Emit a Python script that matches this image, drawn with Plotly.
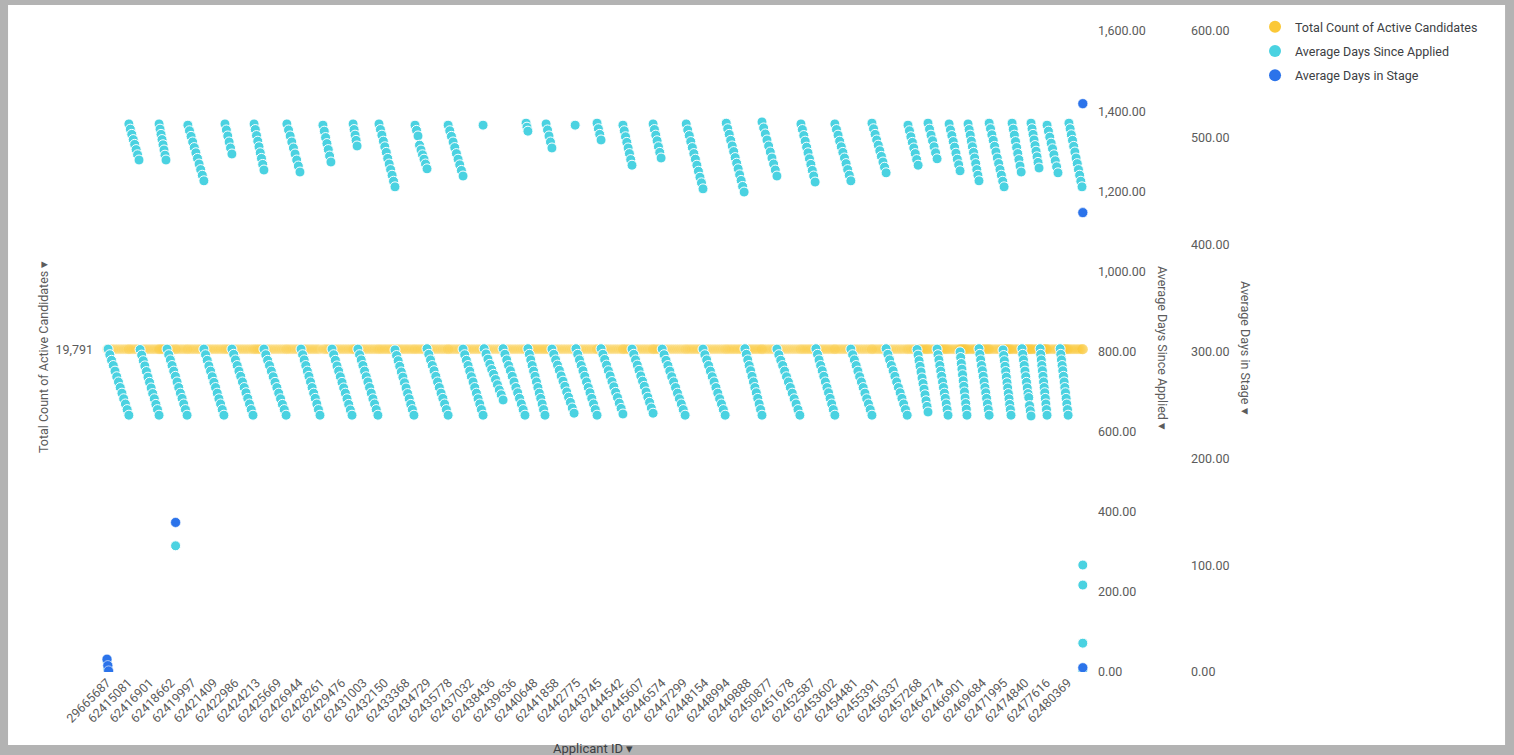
import numpy as np
import plotly.graph_objects as go

# applicant ids shown on the x axis, one label every 8 applicants
tick_ids = ['29665687', '62415081', '62416901', '62418662', '62419997', '62421409',
            '62422986', '62424213', '62425669', '62426944', '62428261', '62429476',
            '62431003', '62432150', '62433368', '62434729', '62435778', '62437032',
            '62438436', '62439636', '62440648', '62441858', '62442775', '62443745',
            '62444542', '62445607', '62446574', '62447299', '62448154', '62448994',
            '62449888', '62450877', '62451678', '62452587', '62453602', '62454481',
            '62455391', '62456337', '62457268', '62464774', '62466901', '62469684',
            '62471995', '62474840', '62477616', '62480369']
tick_rank = list(range(0, 8 * len(tick_ids), 8))

total_count = 19791

# Average Days Since Applied, one run of consecutive applicants at a time
run_start = [0.4, 8.2, 12.4, 19.5, 22.5, 30.3, 36.3, 44.2, 46.8, 55.1, 58.8, 67.4,
             72.7, 80.9, 84.3, 92.2, 94.0, 101.9, 107.9, 115.4, 119.9, 127.8, 133.4,
             140.9, 141.3, 148.4, 157.0, 157.7, 164.5, 166.7, 175.4, 175.7, 183.6,
             185.1, 193.3, 196.7, 204.6, 208.0, 217.0, 223.3, 232.0, 239.0, 245.4,
             251.0, 260.0, 265.6, 272.7, 278.7, 286.6, 291.9, 300.1, 303.5, 307.6,
             311.0, 315.5, 319.6, 322.6, 326.7, 330.5, 335.7, 339.1, 342.8, 346.2,
             349.6, 352.2, 357.1, 360.4]
run_end = [8.2, 12.0, 19.5, 22.1, 30.0, 36.3, 43.8, 46.8, 54.7, 58.8, 67.1, 72.3,
           79.8, 83.9, 91.8, 93.7, 101.5, 107.9, 115.0, 119.9, 127.8, 133.4, 140.9,
           140.9, 148.4, 156.6, 157.7, 164.1, 166.7, 175.0, 175.4, 183.6, 185.1,
           193.3, 196.7, 204.6, 207.6, 216.6, 223.3, 231.6, 238.7, 245.4, 251.0,
           259.6, 265.3, 272.7, 278.7, 286.6, 291.9, 299.8, 303.9, 307.6, 311.0,
           315.1, 319.6, 322.2, 326.7, 330.5, 336.1, 338.7, 342.5, 346.2, 349.2,
           352.2, 356.3, 360.1, 365.3]
run_values = [
    [806, 792, 778, 765, 751, 737, 724, 710, 696, 682, 669, 655, 641],
    [1368, 1355, 1342, 1329, 1317, 1304, 1291, 1278],
    [805, 791, 777, 764, 750, 736, 723, 709, 695, 682, 668, 655, 641],
    [1368, 1355, 1342, 1329, 1316, 1303, 1290, 1278],
    [806, 792, 779, 765, 751, 738, 724, 710, 696, 683, 669, 655, 641],
    [1365, 1351, 1337, 1323, 1309, 1296, 1282, 1268, 1254, 1240, 1226],
    [806, 792, 778, 764, 751, 737, 723, 710, 696, 682, 669, 655, 641],
    [1368, 1353, 1338, 1323, 1308, 1293],
    [806, 793, 779, 765, 751, 738, 724, 710, 697, 683, 669, 655, 641],
    [1368, 1354, 1339, 1325, 1311, 1296, 1282, 1267, 1253],
    [806, 792, 778, 765, 751, 737, 723, 710, 696, 682, 668, 655, 641],
    [1368, 1353, 1338, 1323, 1308, 1293, 1278, 1263, 1248],
    [806, 792, 779, 765, 751, 738, 724, 710, 696, 683, 669, 655, 641],
    [1365, 1350, 1334, 1319, 1304, 1288, 1273],
    [806, 792, 778, 764, 751, 737, 723, 709, 696, 682, 668, 654, 641],
    [1368, 1354, 1340, 1327, 1313],
    [806, 792, 779, 765, 751, 737, 724, 710, 696, 682, 669, 655, 641],
    [1368, 1354, 1340, 1325, 1311, 1297, 1282, 1268, 1254, 1240, 1225, 1211],
    [804, 790, 777, 763, 749, 736, 722, 709, 695, 682, 668, 655, 641],
    [1365, 1352, 1338, 1315, 1303, 1291, 1280, 1268, 1256],
    [807, 793, 779, 765, 752, 738, 724, 710, 696, 683, 669, 655, 641],
    [1365, 1351, 1337, 1323, 1309, 1294, 1280, 1266, 1252, 1238],
    [806, 792, 778, 765, 751, 737, 724, 710, 696, 682, 669, 655, 641],
    [1365],
    [807, 794, 781, 768, 755, 743, 730, 717, 704, 692, 679],
    [807, 793, 779, 765, 752, 738, 724, 710, 697, 683, 669, 655, 641],
    [1370, 1360, 1350],
    [807, 793, 779, 765, 751, 738, 724, 710, 696, 683, 669, 655, 641],
    [1368, 1353, 1338, 1323, 1308],
    [806, 793, 779, 766, 753, 739, 726, 713, 699, 686, 673, 659, 646],
    [1365],
    [807, 793, 779, 765, 752, 738, 724, 710, 697, 683, 669, 655, 641],
    [1370, 1356, 1342, 1328],
    [807, 793, 780, 766, 752, 739, 725, 712, 698, 685, 671, 658, 644],
    [1365, 1351, 1336, 1322, 1308, 1294, 1279, 1265],
    [806, 793, 779, 766, 753, 739, 726, 713, 699, 686, 673, 659, 646],
    [1368, 1354, 1340, 1326, 1311, 1297, 1283],
    [806, 792, 778, 765, 751, 737, 724, 710, 696, 682, 669, 655, 641],
    [1368, 1353, 1339, 1324, 1309, 1294, 1280, 1265, 1250, 1235, 1221, 1206],
    [806, 792, 779, 765, 751, 737, 724, 710, 696, 682, 669, 655, 641],
    [1370, 1356, 1342, 1327, 1313, 1299, 1284, 1270, 1256, 1241, 1227, 1212, 1198],
    [807, 793, 779, 765, 752, 738, 724, 710, 697, 683, 669, 655, 641],
    [1373, 1358, 1343, 1328, 1313, 1298, 1283, 1268, 1253, 1238],
    [806, 792, 778, 765, 751, 737, 724, 710, 696, 682, 669, 655, 641],
    [1368, 1354, 1339, 1325, 1310, 1296, 1281, 1267, 1252, 1238, 1223],
    [807, 793, 779, 765, 752, 738, 724, 710, 697, 683, 669, 655, 641],
    [1368, 1354, 1340, 1325, 1311, 1297, 1283, 1269, 1254, 1240, 1226],
    [806, 792, 779, 765, 751, 737, 724, 710, 696, 682, 669, 655, 641],
    [1370, 1356, 1342, 1328, 1315, 1301, 1287, 1273, 1260, 1246],
    [807, 793, 779, 765, 752, 738, 724, 710, 697, 683, 669, 655, 641],
    [1365, 1351, 1336, 1322, 1308, 1294, 1279, 1265],
    [805, 791, 777, 763, 749, 734, 720, 706, 692, 677, 663, 649],
    [1370, 1355, 1340, 1326, 1311, 1296, 1281],
    [806, 792, 779, 765, 751, 738, 724, 710, 696, 683, 669, 655, 641],
    [1368, 1353, 1339, 1324, 1310, 1295, 1280, 1266, 1251],
    [799, 785, 770, 756, 742, 727, 713, 699, 684, 670, 656, 641],
    [1368, 1354, 1340, 1325, 1311, 1297, 1283, 1269, 1254, 1240, 1226],
    [807, 793, 779, 765, 752, 738, 724, 710, 697, 683, 669, 655, 641],
    [1370, 1356, 1341, 1327, 1312, 1298, 1283, 1269, 1254, 1240, 1225, 1211],
    [804, 790, 777, 763, 750, 736, 722, 709, 695, 682, 668, 655, 641],
    [1370, 1355, 1340, 1324, 1309, 1294, 1279, 1263, 1248],
    [807, 793, 779, 765, 751, 737, 723, 709, 695, 685, 665, 652, 639],
    [1370, 1356, 1342, 1328, 1314, 1300, 1286, 1272, 1258],
    [807, 793, 779, 765, 752, 738, 724, 710, 697, 683, 669, 655, 641],
    [1365, 1350, 1335, 1320, 1306, 1291, 1276, 1261, 1246],
    [807, 793, 779, 765, 752, 738, 724, 710, 697, 683, 669, 655, 641],
    [1370, 1356, 1341, 1327, 1312, 1298, 1283, 1269, 1254, 1240, 1225, 1211],
]

# applicants off the main runs
since_rank = [0.0, 0.3, 25.7, 365.6, 365.6, 365.6, 365.6]
since_days = [28, 8, 315, 267, 217, 72, 3]

# Average Days in Stage (only a few applicants have a value)
stage_rank = [0.0, 0.3, 0.6, 25.7, 365.6, 365.6, 365.6]
stage_days = [12, 6, 1, 140, 532, 430, 4]

YELLOW = '#fbc837'
CYAN = '#4ad2e1'
BLUE = '#2b73ea'

run_x = np.concatenate([np.linspace(s, e, len(v)) for s, e, v in zip(run_start, run_end, run_values)])
run_y = np.concatenate([np.array(v, dtype=float) for v in run_values])
since_x = np.concatenate([run_x, since_rank])
since_y = np.concatenate([run_y, since_days])

fig = go.Figure()
fig.add_trace(go.Scatter(x=since_x, y=[total_count] * len(since_x), mode='markers', yaxis='y',
                         marker=dict(color=YELLOW, size=10, opacity=0.22, line=dict(width=0)),
                         showlegend=False, hoverinfo='skip'))
fig.add_trace(go.Scatter(x=since_x, y=since_y, mode='markers', yaxis='y2',
                         marker=dict(color=CYAN, size=10, line=dict(color='white', width=1)),
                         showlegend=False))
fig.add_trace(go.Scatter(x=stage_rank, y=stage_days, mode='markers', yaxis='y3',
                         marker=dict(color=BLUE, size=10, line=dict(color='white', width=0.6)),
                         showlegend=False))

# legend entries
for i, (name, col) in enumerate([('Total Count of Active Candidates', YELLOW),
                                 ('Average Days Since Applied', CYAN),
                                 ('Average Days in Stage', BLUE)]):
    fig.add_trace(go.Scatter(x=[None], y=[None], mode='markers', name=name, legendgroup=str(i),
                             marker=dict(color=col, size=12)))

axis_common = dict(showgrid=False, zeroline=False, showline=False, ticks='',
                   tickfont=dict(family='Roboto', size=12.5, color='#5b5b5b'))

fig.update_layout(
    width=1514, height=755,
    margin=dict(l=94, r=20, t=31, b=83),
    paper_bgcolor='#b3b3b3', plot_bgcolor='white',
    font=dict(family='Roboto', size=12.5, color='#5b5b5b'),
    xaxis=dict(domain=[0, 0.7164], range=[-4.87, 370.9], tickmode='array',
               tickvals=tick_rank, ticktext=tick_ids, tickangle=-45, **axis_common),
    yaxis=dict(range=[0, 39300], tickvals=[total_count], tickformat=',', **axis_common),
    yaxis2=dict(overlaying='y', side='right', anchor='x', range=[0, 1600], dtick=200,
                tickformat=',.2f', **axis_common),
    yaxis3=dict(overlaying='y', side='right', anchor='free', position=0.7829, range=[0, 600],
                dtick=100, tickformat=',.2f', **axis_common),
    legend=dict(x=0.8293, y=1.0296, xanchor='left', yanchor='top', itemsizing='constant',
                tracegroupgap=5, bgcolor='rgba(0,0,0,0)',
                font=dict(family='Roboto', size=12.5, color='#3c4043')),
    shapes=[dict(type='rect', xref='paper', yref='paper', x0=-0.0614, x1=1.0079,
                 y0=-0.1139, y1=1.0406, fillcolor='white', line=dict(width=0), layer='below')],
    annotations=[
        dict(text='Applicant ID ▾', xref='paper', yref='paper', x=0.3564, y=-0.1186,
             xanchor='center', yanchor='middle', showarrow=False,
             font=dict(size=13, color='#3c4043')),
        dict(text='Total Count of Active Candidates ▾', xref='paper', yref='paper', x=-0.0364,
             y=0.4914, xanchor='center', yanchor='middle', textangle=-90, showarrow=False),
        dict(text='Average Days Since Applied ▾', xref='paper', yref='paper', x=0.7629,
             y=0.5055, xanchor='center', yanchor='middle', textangle=90, showarrow=False),
        dict(text='Average Days in Stage ▾', xref='paper', yref='paper', x=0.8221,
             y=0.5055, xanchor='center', yanchor='middle', textangle=90, showarrow=False),
    ],
)

fig.write_html("out.html", config={'displayModeBar': False},
               post_script="document.body.style.margin = '0';")
